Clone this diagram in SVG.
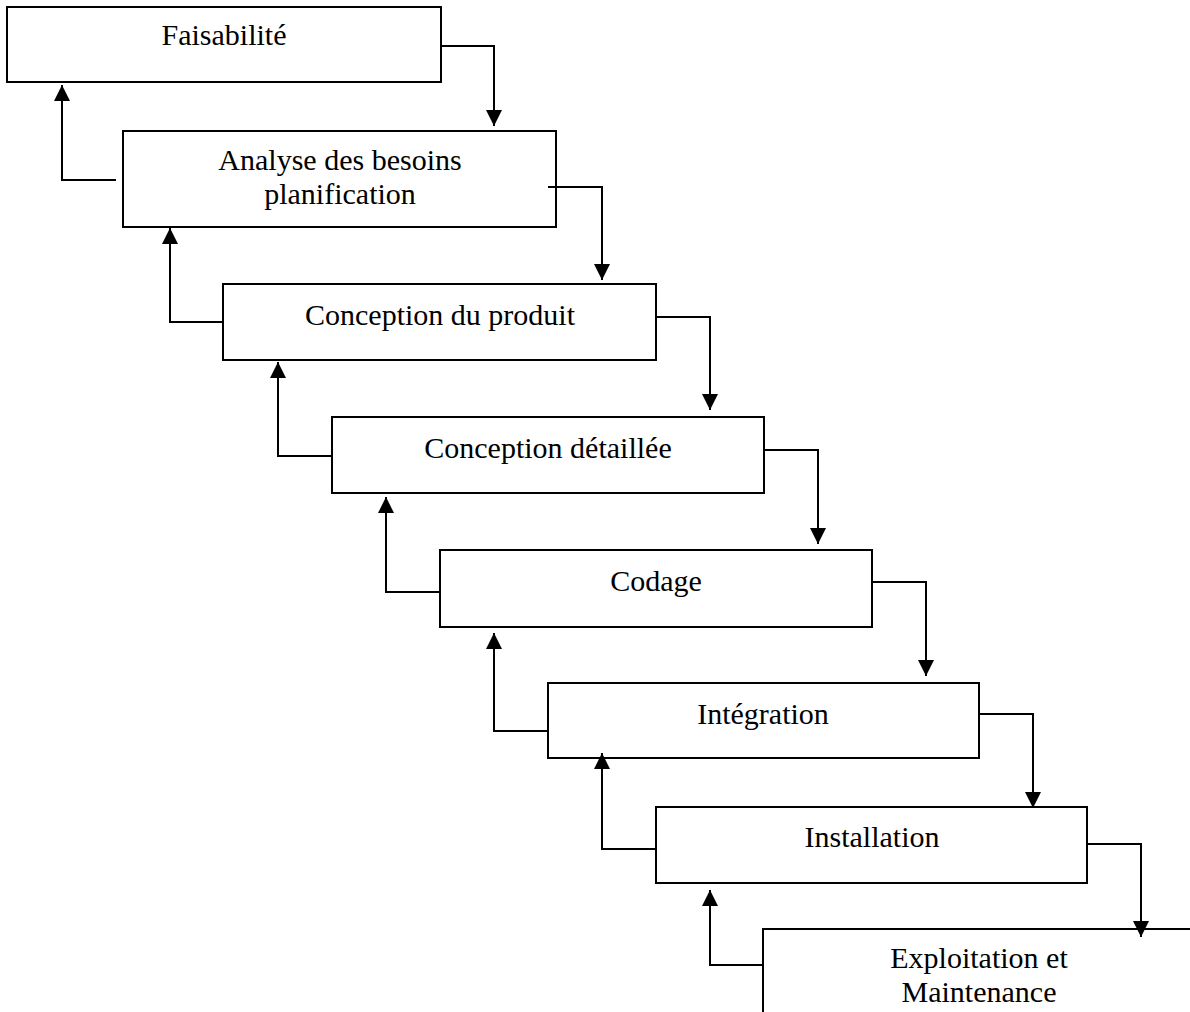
<svg xmlns="http://www.w3.org/2000/svg" width="1190" height="1012" viewBox="0 0 1190 1012">
  <style>
    .box { fill: #ffffff; stroke: #000000; stroke-width: 2; }
    .lbl { font-family: "Liberation Serif", "Times New Roman", serif; font-size: 30px; fill: #000000; text-anchor: middle; }
    .link { fill: none; stroke: #000000; stroke-width: 2; marker-end: url(#arrow); }
  </style>
  <defs>
    <marker id="arrow" markerUnits="userSpaceOnUse" markerWidth="16" markerHeight="16" refX="16" refY="8" orient="auto">
      <path d="M0,0 L16,8 L0,16 z" fill="#000000"/>
    </marker>
  </defs>
  <rect x="0" y="0" width="1190" height="1012" fill="#ffffff"/>

  <g id="faisabilite">
    <rect class="box" x="7" y="7" width="434" height="75"/>
    <text class="lbl" x="224" y="45">Faisabilité</text>
  </g>
  <g id="analyse">
    <rect class="box" x="123" y="131" width="433" height="96"/>
    <text class="lbl" x="340" y="170">Analyse des besoins</text>
    <text class="lbl" x="340" y="204">planification</text>
  </g>
  <g id="conception-produit">
    <rect class="box" x="223" y="284" width="433" height="76"/>
    <text class="lbl" x="440" y="325">Conception du produit</text>
  </g>
  <g id="conception-detaillee">
    <rect class="box" x="332" y="417" width="432" height="76"/>
    <text class="lbl" x="548" y="458">Conception détaillée</text>
  </g>
  <g id="codage">
    <rect class="box" x="440" y="550" width="432" height="77"/>
    <text class="lbl" x="656" y="591">Codage</text>
  </g>
  <g id="integration">
    <rect class="box" x="548" y="683" width="431" height="75"/>
    <text class="lbl" x="763" y="724">Intégration</text>
  </g>
  <g id="installation">
    <rect class="box" x="656" y="807" width="431" height="76"/>
    <text class="lbl" x="872" y="847">Installation</text>
  </g>
  <g id="exploitation">
    <rect class="box" x="763" y="929" width="433" height="100"/>
    <text class="lbl" x="979" y="968">Exploitation et</text>
    <text class="lbl" x="979" y="1002">Maintenance</text>
  </g>

  <g id="connectors">
    <!-- forward flow, down the cascade -->
    <polyline class="link" points="441,46 494,46 494,126"/>
    <polyline class="link" points="548,187 602,187 602,280"/>
    <polyline class="link" points="656,317 710,317 710,410"/>
    <polyline class="link" points="764,450 818,450 818,544"/>
    <polyline class="link" points="872,582 926,582 926,676"/>
    <polyline class="link" points="979,714 1033,714 1033,808"/>
    <polyline class="link" points="1087,844 1141,844 1141,937"/>
    <!-- feedback, back up to the previous phase -->
    <polyline class="link" points="116,180 62,180 62,85"/>
    <polyline class="link" points="223,322 170,322 170,228"/>
    <polyline class="link" points="332,456 278,456 278,362"/>
    <polyline class="link" points="440,592 386,592 386,497"/>
    <polyline class="link" points="548,731 494,731 494,633"/>
    <polyline class="link" points="656,849 602,849 602,753"/>
    <polyline class="link" points="763,965 710,965 710,890"/>
  </g>
</svg>
